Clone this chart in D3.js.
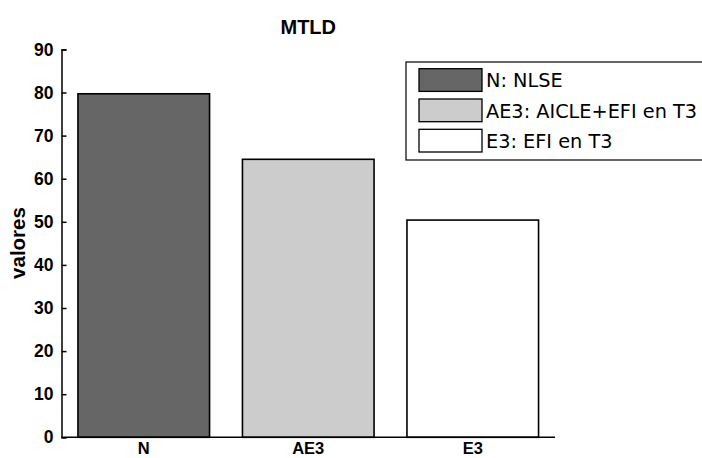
<!DOCTYPE html>
<html><head><meta charset="utf-8">
<script src="https://cdn.jsdelivr.net/npm/d3@7"></script>
<style>body{margin:0;background:#fff}svg{display:block}</style>
</head><body><svg id="c" width="702" height="458"></svg>
<script>
const categories = ["N", "AE3", "E3"];
const values = [79.7, 64.5, 50.4];
const fills = ["#666666", "#cccccc", "#ffffff"];
const legendLabels = ["N: NLSE", "AE3: AICLE+EFI en T3", "E3: EFI en T3"];
const yTicks = [0, 10, 20, 30, 40, 50, 60, 70, 80, 90];
const title = "MTLD";
const yLabel = "valores";

const svg = d3.select("#c");
const m = {left: 61.5, right: 555, top: 49.4, bottom: 437.3};
const x = d3.scaleBand().domain(categories).range([m.left, m.right]).paddingInner(0.2).paddingOuter(0.1);
const y = d3.scaleLinear().domain([0, 90]).range([m.bottom, m.top]);
const bold = "'Liberation Sans', Arial, sans-serif";

svg.selectAll("rect.bar").data(categories).join("rect")
  .attr("class", "bar")
  .attr("x", d => x(d)).attr("width", x.bandwidth())
  .attr("y", (d, i) => y(values[i])).attr("height", (d, i) => y(0) - y(values[i]))
  .attr("fill", (d, i) => fills[i]).attr("stroke", "#000").attr("stroke-width", 1.6);

const ya = svg.append("g").attr("transform", `translate(${m.left},0)`)
  .call(d3.axisLeft(y).tickValues(yTicks).tickSizeInner(-5).tickSizeOuter(-5).tickPadding(8));
ya.select(".domain").attr("stroke-width", 1.5);
ya.selectAll(".tick line").attr("stroke-width", 1.5);
ya.selectAll("text").attr("font-family", bold).attr("font-weight", "bold").attr("font-size", 17.5).attr("fill", "#000");

const xa = svg.append("g").attr("transform", `translate(0,${m.bottom})`)
  .call(d3.axisBottom(x).tickSize(0).tickPadding(0));
xa.select(".domain").attr("stroke-width", 1.5).attr("d", `M${m.left},0H${m.right}`);
xa.selectAll("text").attr("font-family", bold).attr("font-weight", "bold").attr("font-size", 16.5)
  .attr("fill", "#000").attr("dy", null).attr("y", 16.5);

svg.append("text").attr("x", (m.left + m.right) / 2).attr("y", 34).attr("text-anchor", "middle")
  .attr("font-family", bold).attr("font-weight", "bold").attr("font-size", 20).text(title);

svg.append("text").attr("transform", "translate(25,243) rotate(-90)").attr("text-anchor", "middle")
  .attr("font-family", bold).attr("font-weight", "bold").attr("font-size", 20.5).text(yLabel);

const lg = svg.append("g");
lg.append("rect").attr("x", 406).attr("y", 62).attr("width", 320).attr("height", 98)
  .attr("fill", "#fff").attr("stroke", "#000").attr("stroke-width", 1.2);
const rowY = d3.scalePoint().domain(legendLabels).range([68.7, 129.3]);
lg.selectAll("rect.sw").data(legendLabels).join("rect").attr("class", "sw")
  .attr("x", 419).attr("y", d => rowY(d)).attr("width", 63).attr("height", 22.7)
  .attr("fill", (d, i) => fills[i]).attr("stroke", "#000").attr("stroke-width", 1.3);
lg.selectAll("text").data(legendLabels).join("text")
  .attr("x", 486).attr("y", d => rowY(d) + 18.5)
  .attr("font-family", "'DejaVu Sans', sans-serif").attr("font-size", 19.3).attr("fill", "#000").text(d => d);
</script></body></html>
